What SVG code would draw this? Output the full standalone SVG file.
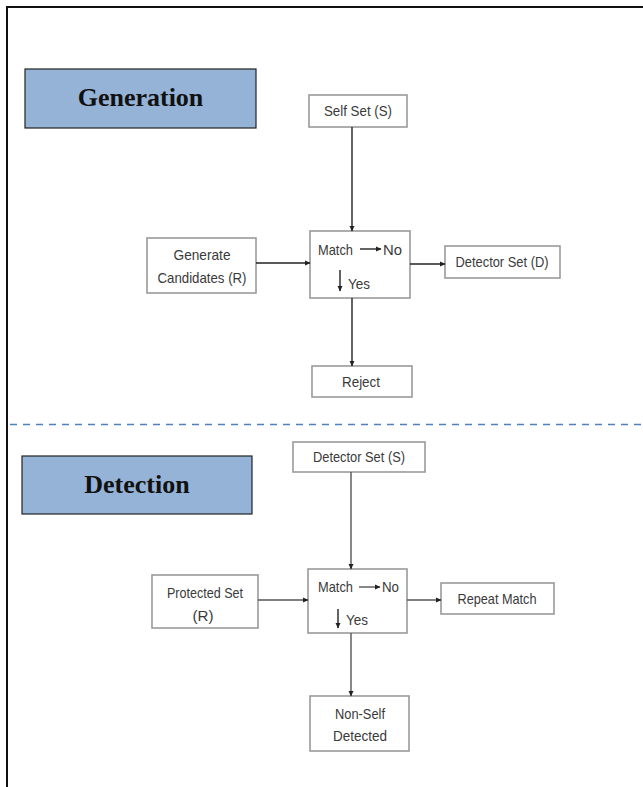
<svg xmlns="http://www.w3.org/2000/svg" width="643" height="787" viewBox="0 0 643 787">
<style>
.frame{fill:none;stroke:#111;stroke-width:2}
.title{fill:#95b3d7;stroke:#222;stroke-width:1.2}
.ttext{font-family:"Liberation Serif",serif;font-weight:bold;font-size:26px;fill:#111;text-anchor:middle}
.box{fill:#fff;stroke:#9a9a9a;stroke-width:1.6}
.lbl{font-family:"Liberation Sans",Arial,sans-serif;font-size:14.5px;fill:#3a3a3a;text-anchor:middle}
.lbl2{font-family:"Liberation Sans",Arial,sans-serif;font-size:14.5px;fill:#3a3a3a}
.conn{fill:none;stroke:#222;stroke-width:1.4}
.conn2{fill:none;stroke:#555;stroke-width:1.4}
.dash{fill:none;stroke:#4f81bd;stroke-width:1.5;stroke-dasharray:7 6}
</style>
<defs>
<marker id="ah" markerWidth="6" markerHeight="6" refX="5" refY="3" orient="auto" markerUnits="userSpaceOnUse">
<path d="M0,0.5 L5.5,3 L0,5.5 Z" fill="#222"/>
</marker>
</defs>
<rect width="643" height="787" fill="#fff"/>
<path class="frame" d="M7,787 V7 H643"/>
<line class="dash" x1="10" y1="424.5" x2="643" y2="424.5"/>

<g id="generation-title">
<rect class="title" x="25" y="69" width="231" height="59"/>
<text class="ttext" x="140.5" y="106">Generation</text>
</g>
<g id="self-set">
<rect class="box" x="309" y="95" width="98" height="32"/>
<text class="lbl" x="358" y="116" textLength="68" lengthAdjust="spacingAndGlyphs">Self Set (S)</text>
</g>
<g id="generate-candidates">
<rect class="box" x="147" y="238" width="109" height="55"/>
<text class="lbl" x="202" y="260" textLength="57" lengthAdjust="spacingAndGlyphs">Generate</text>
<text class="lbl" x="202" y="283" textLength="89" lengthAdjust="spacingAndGlyphs">Candidates (R)</text>
</g>
<g id="match1">
<rect class="box" x="310" y="231" width="100" height="67"/>
<text class="lbl2" x="318" y="255" textLength="35" lengthAdjust="spacingAndGlyphs">Match</text>
<line class="conn" x1="360" y1="249" x2="381" y2="249" marker-end="url(#ah)"/>
<text class="lbl2" x="383" y="255" textLength="19" lengthAdjust="spacingAndGlyphs">No</text>
<line class="conn" x1="340" y1="270" x2="340" y2="291" marker-end="url(#ah)"/>
<text class="lbl2" x="348" y="289" textLength="22" lengthAdjust="spacingAndGlyphs">Yes</text>
</g>
<g id="detector-set-d">
<rect class="box" x="445" y="246" width="115" height="32"/>
<text class="lbl" x="502" y="267" textLength="93" lengthAdjust="spacingAndGlyphs">Detector Set (D)</text>
</g>
<g id="reject">
<rect class="box" x="312" y="366" width="100" height="31"/>
<text class="lbl" x="361" y="387" textLength="38" lengthAdjust="spacingAndGlyphs">Reject</text>
</g>

<g id="detection-title">
<rect class="title" x="22" y="456" width="230" height="58"/>
<text class="ttext" x="137" y="493">Detection</text>
</g>
<g id="detector-set-s">
<rect class="box" x="293" y="442" width="132" height="30"/>
<text class="lbl" x="359" y="462" textLength="92" lengthAdjust="spacingAndGlyphs">Detector Set (S)</text>
</g>
<g id="protected-set">
<rect class="box" x="152" y="575" width="106" height="53"/>
<text class="lbl" x="205" y="598" textLength="76" lengthAdjust="spacingAndGlyphs">Protected Set</text>
<text class="lbl" x="203" y="621" textLength="21" lengthAdjust="spacingAndGlyphs">(R)</text>
</g>
<g id="match2">
<rect class="box" x="308" y="569" width="99" height="64"/>
<text class="lbl2" x="318" y="592" textLength="35" lengthAdjust="spacingAndGlyphs">Match</text>
<line class="conn2" x1="359" y1="587" x2="380" y2="587" marker-end="url(#ah)"/>
<text class="lbl2" x="382" y="592" textLength="17" lengthAdjust="spacingAndGlyphs">No</text>
<line class="conn" x1="338" y1="609" x2="338" y2="628" marker-end="url(#ah)"/>
<text class="lbl2" x="346" y="625" textLength="22" lengthAdjust="spacingAndGlyphs">Yes</text>
</g>
<g id="repeat-match">
<rect class="box" x="441" y="583" width="113" height="31"/>
<text class="lbl" x="497" y="604" textLength="79" lengthAdjust="spacingAndGlyphs">Repeat Match</text>
</g>
<g id="non-self-detected">
<rect class="box" x="310" y="696" width="99" height="55"/>
<text class="lbl" x="360" y="719" textLength="50" lengthAdjust="spacingAndGlyphs">Non-Self</text>
<text class="lbl" x="360" y="741" textLength="54" lengthAdjust="spacingAndGlyphs">Detected</text>
</g>

<g id="connectors">
<line class="conn" x1="352" y1="127" x2="352" y2="231" marker-end="url(#ah)"/>
<line class="conn" x1="256" y1="263" x2="310" y2="263" marker-end="url(#ah)"/>
<line class="conn" x1="410" y1="264" x2="445" y2="264" marker-end="url(#ah)"/>
<line class="conn" x1="352" y1="298" x2="352" y2="366" marker-end="url(#ah)"/>
<line class="conn2" x1="351" y1="472" x2="351" y2="569" marker-end="url(#ah)"/>
<line class="conn2" x1="258" y1="600" x2="308" y2="600" marker-end="url(#ah)"/>
<line class="conn2" x1="407" y1="600" x2="441" y2="600" marker-end="url(#ah)"/>
<line class="conn2" x1="351" y1="633" x2="351" y2="696" marker-end="url(#ah)"/>
</g>
</svg>
